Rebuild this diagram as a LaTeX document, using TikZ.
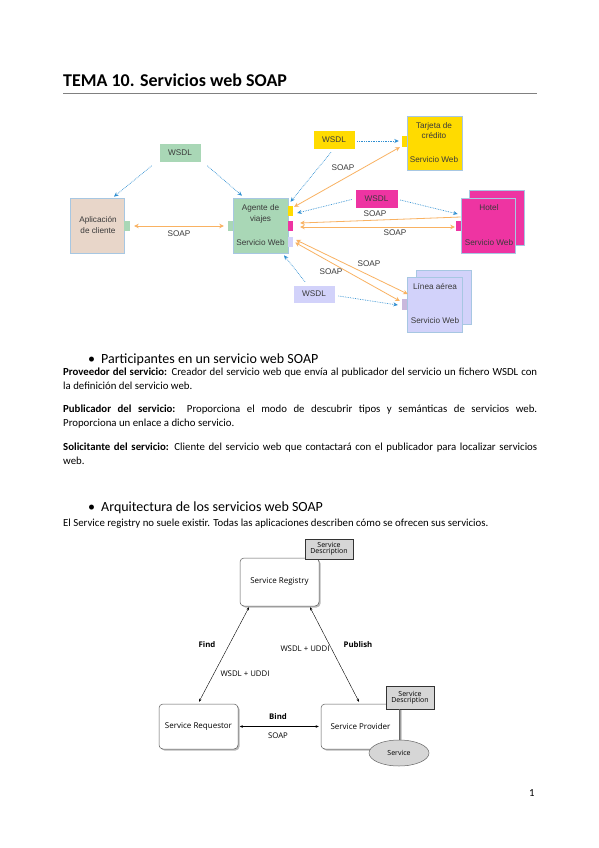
\documentclass[tikz,border=0pt]{standalone}
\usepackage{fontspec}
\setmainfont{Carlito}
\newfontfamily\dA{Liberation Sans}
\newfontfamily\dB{Open Sans}
\usetikzlibrary{arrows.meta,shadows,shapes.geometric,calc}
\definecolor{cGreen}{HTML}{A9D7B6}
\definecolor{cBeige}{HTML}{E8D6C9}
\definecolor{cYel}{HTML}{FFDB00}
\definecolor{cMag}{HTML}{EE34A2}
\definecolor{cLav}{HTML}{D2D2FA}
\definecolor{cLavP}{HTML}{C9B8DC}
\definecolor{cOra}{HTML}{F9B262}
\definecolor{cBlue}{HTML}{2F8FD2}
\definecolor{cEdge}{HTML}{A7C7E2}
\definecolor{cTxt}{HTML}{3A3A3A}
\definecolor{cGrayF}{HTML}{D6D6D6}
\tikzset{
  otip/.tip={Stealth[length=4.5pt,width=4.5pt]},
  btip/.tip={Stealth[length=3pt,width=2.5pt]},
  box/.style={draw=cEdge, line width=0.6pt, inner sep=0pt, minimum width=#1},
  port/.style={inner sep=0pt, minimum width=5pt, minimum height=10pt},
  dtxt/.style={font=\dA\fontsize{8.2}{9.5}\selectfont, text=cTxt, inner sep=0pt},
  wsdl/.style={draw=white, line width=0.6pt, inner sep=0pt, minimum width=42pt, minimum height=19pt, font=\dA\fontsize{8.2}{9.5}\selectfont, text=cTxt},
  dotarr/.style={cBlue, densely dotted, line width=0.7pt, -{Stealth[length=4.5pt,width=4pt]}},
  soap/.style={cOra, line width=0.8pt},
  rbox/.style={draw=gray!70!black, line width=0.5pt, rounded corners=4pt, fill=white, minimum width=79pt, inner sep=0pt,
     drop shadow={shadow xshift=1.5pt, shadow yshift=-1.5pt, fill=gray!55, opacity=1}, font=\dB\fontsize{8}{9.5}\selectfont},
  desc/.style={draw=black!80, line width=0.6pt, fill=cGrayF, minimum width=48pt, inner sep=0pt, align=center, font=\dB\fontsize{7}{8}\selectfont},
  btxt/.style={font=\dB\fontsize{7.8}{9}\selectfont, inner sep=0pt},
  bbold/.style={font=\dB\bfseries\fontsize{7.8}{9}\selectfont, inner sep=0pt},
  barr/.style={black, line width=0.4pt, {btip}-{btip}},
  body/.style={anchor=base west, inner sep=0pt, font=\fontsize{10.8}{12}\selectfont},
  head/.style={anchor=base west, inner sep=0pt, font=\fontsize{14}{16}\selectfont}
}
\begin{document}
\begin{tikzpicture}[x=1pt,y=-1pt]
\useasboundingbox[fill=white] (0,0) rectangle (599,848);

% ---- title ----
\node[anchor=base west, inner sep=0pt, font=\bfseries\fontsize{18}{21}\selectfont] (title) at (63,87) {TEMA 10. Servicios web SOAP};
\coordinate (ruleL) at (63,93.5);
\coordinate (ruleR) at (537,93.5);
\draw[gray, line width=1.5pt] (ruleL) -- (ruleR);

% ---- diagram 1 ----
\node[wsdl, fill=cGreen] (wG) at (180,153) {WSDL};
\node[box=54pt, minimum height=55pt, fill=cBeige] (cli) at (97,225.5) {};
\node[dtxt] (cliT1) at (98,220) {Aplicación};
\node[dtxt] (cliT2) at (98,231) {de cliente};
\node[port, minimum width=6pt, fill=cGreen] (cliP) at (127,226) {};

\node[box=55pt, minimum height=55pt, fill=cGreen] (age) at (260.5,225.5) {};
\node[dtxt] (ageT1) at (260.5,208) {Agente de};
\node[dtxt] (ageT2) at (260.5,219) {viajes};
\node[dtxt] (ageT3) at (260.5,243) {Servicio Web};
\node[port, fill=cGreen] (ageP) at (230.5,226) {};
\node[port, fill=cYel] (ageY) at (290.5,211) {};
\node[port, fill=cMag] (ageM) at (290.5,226) {};
\node[port, fill=cLav] (ageL) at (290.5,241.5) {};

\node[box=55pt, minimum height=54pt, fill=cYel] (tar) at (434.5,143) {};
\node[dtxt] (tarT1) at (434,126) {Tarjeta de};
\node[dtxt] (tarT2) at (434,136) {crédito};
\node[dtxt] (tarT3) at (434,160) {Servicio Web};
\node[port, minimum height=11pt, fill=cYel] (tarP) at (404.5,141.5) {};
\node[wsdl, fill=cYel] (wY) at (334,139.5) {WSDL};

\node[wsdl, fill=cMag, minimum width=43pt] (wM) at (376.5,198.5) {WSDL};
\node[box=55pt, minimum height=55pt, fill=cMag] (hotB) at (496.5,217.5) {};
\node[box=54pt, minimum height=55pt, fill=cMag] (hot) at (488,225.5) {};
\node[dtxt] (hotT1) at (489,208) {Hotel};
\node[dtxt] (hotT2) at (489,243) {Servicio Web};
\node[port, fill=cMag] (hotP) at (458.5,226) {};

\node[wsdl, fill=cLav, minimum height=18pt] (wL) at (314,294) {WSDL};
\node[box=55pt, minimum height=54pt, fill=cLav] (linB) at (443.5,297) {};
\node[box=55pt, minimum height=55pt, fill=cLav] (lin) at (434.5,304.5) {};
\node[dtxt] (linT1) at (435,287) {Línea aérea};
\node[dtxt] (linT2) at (435,321) {Servicio Web};
\node[port, minimum height=11pt, fill=cLavP] (linP) at (404.5,304.5) {};

% dotted WSDL arrows
\draw[dotarr] ($(wG.south west)+(-7,3)$) -- ($(cli.north)+(17,-1)$);
\draw[dotarr] ($(wG.south east)+(6,3)$) -- ($(age.north)+(-18.5,-2)$);
\draw[dotarr] ($(wY.east)+(2,1.5)$) -- ($(tarP.west)+(-3,-0.5)$);
\draw[dotarr] ($(wY.south)+(-3,3)$) -- ($(ageY.north)+(0,-4)$);
\draw[dotarr] ($(wM.west)+(-3,1)$) -- ($(ageY.east)+(4,2)$);
\draw[dotarr] ($(wM.east)+(2,1.5)$) -- ($(hot.west)+(-3,-11.5)$);
\draw[dotarr] ($(wL.north)+(-9,-3)$) -- ($(age.south)+(23.5,2)$);
\draw[dotarr] ($(wL.east)+(3,2)$) -- ($(linP.west)+(-4,0.5)$);

% SOAP arrows
\draw[soap, {otip}-{otip}] ($(cliP.east)+(4,0)$) -- node[below=4pt, dtxt] (sL1) {SOAP} ($(ageP.west)+(-4,0)$);
\draw[soap, {otip}-{otip}] ($(ageY.north east)+(1,1)$) -- ($(tarP.south west)+(-2,0)$);
\node[dtxt] (sL2) at (343,168) {SOAP};
\draw[soap, {otip}-] ($(ageM.east)+(7,-3)$) -- ($(hot.west)+(0,-8.5)$);
\node[dtxt] (sL3) at (375,214) {SOAP};
\draw[soap, {otip}-{otip}] ($(ageM.east)+(7,1)$) -- ($(hotP.west)+(-1,1)$);
\node[dtxt] (sL4) at (395,233) {SOAP};
\draw[soap, {otip}-{otip}] ($(ageL.east)+(3,-1.5)$) -- ($(lin.west)+(1,-10.5)$);
\draw[soap, {otip}-{otip}] ($(ageL.east)+(2,1)$) -- ($(linP.west)+(-2,-3.5)$);
\node[dtxt] (sL5) at (369,264) {SOAP};
\node[dtxt] (sL6) at (331,272) {SOAP};

% ---- text ----
\node[head] (b1) at (88,363) {•};
\node[head] (h1) at (101,363) {Participantes en un servicio web SOAP};
\node[body] (p1a) at (63,375) {\makebox[474pt][s]{\textbf{Proveedor del servicio:} Creador del servicio web que envía al publicador del servicio un fichero WSDL con}};
\node[body] (p1b) at (63,389) {la definición del servicio web.};
\node[body] (p2a) at (63,412.5) {\makebox[474pt][s]{\textbf{Publicador del servicio:} Proporciona el modo de descubrir tipos y semánticas de servicios web.}};
\node[body] (p2b) at (63,426.5) {Proporciona un enlace a dicho servicio.};
\node[body] (p3a) at (63,450) {\makebox[474pt][s]{\textbf{Solicitante del servicio:} Cliente del servicio web que contactará con el publicador para localizar servicios}};
\node[body] (p3b) at (63,464) {web.};
\node[head] (b2) at (88,511) {•};
\node[head] (h2) at (101,511) {Arquitectura de los servicios web SOAP};
\node[body] (p4) at (63,526) {El Service registry no suele existir. Todas las aplicaciones describen cómo se ofrecen sus servicios.};

% ---- diagram 2 ----
\node[rbox, minimum height=48pt] (reg) at (279.5,582) {Service Registry};
\node[desc, minimum height=20pt] (regD) at (329,549) {Service\\[-2pt]Description};
\node[rbox, minimum height=45pt] (req) at (198.5,726.5) {Service Requestor};
\node[rbox, minimum height=45pt] (prov) at (360.5,726.5) {Service Provider};
\node[desc, minimum height=23pt] (provD) at (410,697.5) {Service\\[-2pt]Description};
\node[ellipse, draw=gray!80!black, line width=0.5pt, fill=cGrayF, minimum width=60pt, minimum height=26pt, inner sep=0pt, font=\dB\fontsize{7}{8}\selectfont] (svc) at (399,753) {Service};
\draw[gray!80!black, line width=0.8pt] (provD.south -| svc.north) -- (svc.north);

\draw[barr] ($(req.north)+(0.5,-2)$) -- ($(reg.south)+(-30.5,1)$);
\draw[barr] ($(reg.south)+(30.5,1)$) -- ($(prov.north)+(-1.5,-2)$);
\draw[barr] ($(req.east)+(1.5,0)$) -- ($(prov.west)+(-2,0)$);

\node[bbold] (lFind) at (207,645) {Find};
\node[btxt] (lW1) at (245,674) {WSDL + UDDI};
\node[btxt] (lW2) at (305,649) {WSDL + UDDI};
\node[bbold] (lPub) at (358,645) {Publish};
\node[bbold] (lBind) at (278,717) {Bind};
\node[btxt] (lSoap) at (278,736) {SOAP};

% page number
\node[body] (pg) at (529,796) {1};
\end{tikzpicture}
\end{document}
